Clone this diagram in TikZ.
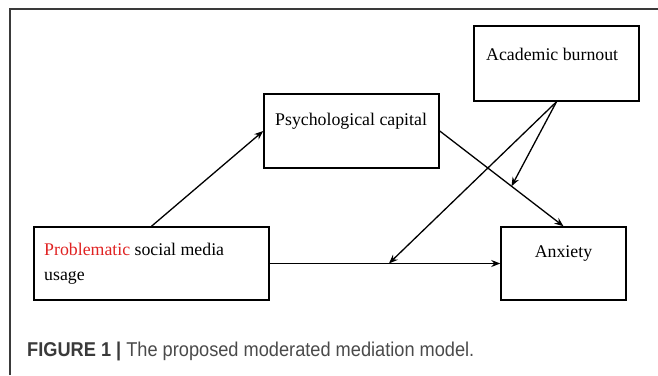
\documentclass[tikz,border=0pt]{standalone}
\usepackage{fontspec}
\setmainfont{Liberation Serif}
\newfontfamily\capfont[FakeStretch=0.91]{Liberation Sans}
\usetikzlibrary{arrows.meta,calc}
\definecolor{framegray}{HTML}{3A3A3A}
\definecolor{capgray}{HTML}{4A4A4A}
\definecolor{probred}{HTML}{E02222}
\tikzset{
    box/.style={draw, line width=1.5pt, inner sep=0pt},
    txt/.style={inner sep=0pt, font=\fontsize{17.8}{25}\selectfont},
    path/.style={line width=1.3pt, -{Stealth[length=9pt,width=7pt]}}
}
\begin{document}
\begin{tikzpicture}[x=1pt,y=-1pt]
    \useasboundingbox (0,0) rectangle (658,375);
    \draw[framegray, line width=1.4pt] (10,375) -- (10,9) -- (658,9);
    % boxes
    \node[box, minimum width=165pt, minimum height=75pt] (ab) at (556.5,63.5) {};
    \node[box, minimum width=175pt, minimum height=74pt] (psy) at (351.5,131) {};
    \node[box, minimum width=235pt, minimum height=73pt] (pmsu) at (151.5,263.5) {};
    \node[box, minimum width=125pt, minimum height=73pt] (anx) at (563.5,263.5) {};
    % texts
    \node[txt, anchor=west] (abt) at (486,54) {Academic burnout};
    \node[txt, anchor=west] (psyt) at (275,121) {Psychological capital};
    \node[txt, anchor=north west, align=left] (pmsut) at (44,243)
        {\textcolor{probred}{Problematic} social media\\usage};
    \node[txt] (anxt) at (563.5,254) {Anxiety};
    % paths
    \draw[path] (pmsu.north) -- (psy.west);
    \draw[path] (psy.east) -- (anx.north);
    \draw[path] (pmsu.east) -- (anx.west);
    \coordinate (m1) at ($(pmsu.east)!0.517!(anx.west)$);
    \coordinate (m2) at ($(psy.east)!0.58!(anx.north)$);
    \draw[path] (ab.south) -- (m1);
    \draw[path] (ab.south) -- (m2);
    % caption
    \node[inner sep=0pt, anchor=base west, font=\capfont\fontsize{20}{24}\selectfont] (cap) at (27,356)
        {\textcolor{framegray}{\textbf{FIGURE 1 |}} \textcolor{capgray}{The proposed moderated mediation model.}};
\end{tikzpicture}
\end{document}
